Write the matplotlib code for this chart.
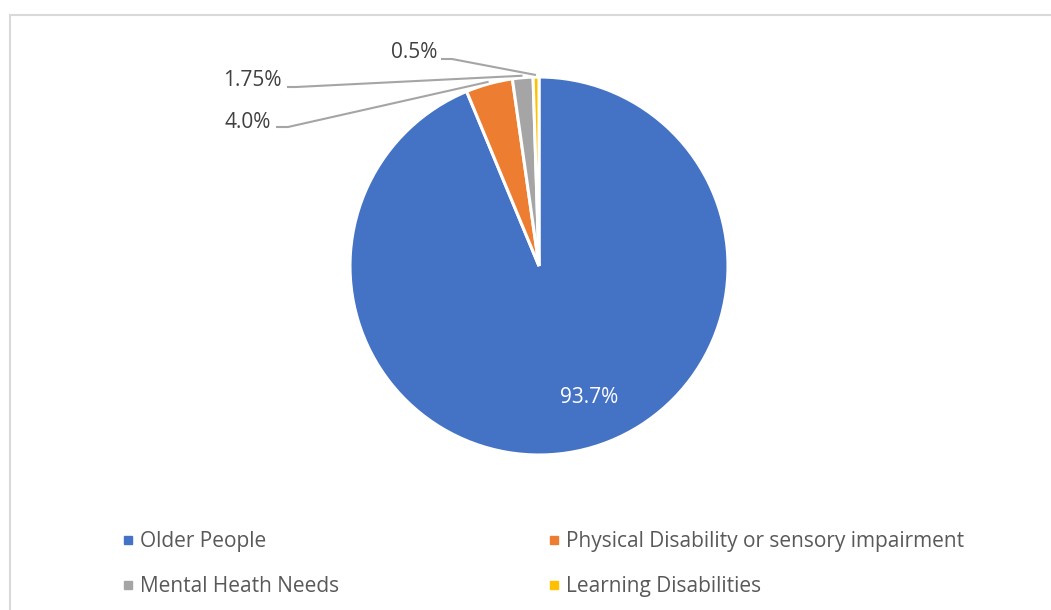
import numpy as np
import matplotlib
matplotlib.use("Agg")
import matplotlib.pyplot as plt
from matplotlib.lines import Line2D
from matplotlib.patches import Rectangle

plt.rcParams['font.family'] = ['Open Sans', 'DejaVu Sans']

# data
categories = ['Older People', 'Physical Disability or sensory impairment',
              'Mental Heath Needs', 'Learning Disabilities']
values = [93.7, 4.0, 1.75, 0.5]
value_labels = ['93.7%', '4.0%', '1.75%', '0.5%']
colors = ['#4472C4', '#ED7D31', '#A5A5A5', '#FFC000']

W, H = 1051, 610
fig = plt.figure(figsize=(W / 100, H / 100), dpi=100)
ax = fig.add_axes([0, 0, 1, 1])
ax.set_xlim(0, W)
ax.set_ylim(0, H)
ax.set_aspect('equal')
ax.axis('off')

# chart area border (light grey, only top/left visible)
ax.add_patch(Rectangle((9.5, -20), W + 50, H - 14.5 + 20, fill=False,
                       edgecolor='#D9D9D9', linewidth=1.5))

cx, cy, R = 539, H - 266, 189
wedges, _ = ax.pie(values, colors=colors, startangle=90, counterclock=False,
                   center=(cx, cy), radius=R,
                   wedgeprops=dict(edgecolor='white', linewidth=2.2))
ax.set_xlim(0, W)
ax.set_ylim(0, H)

def mid_angle(w):
    return np.deg2rad((w.theta1 + w.theta2) / 2)

# inner label for the big slice
a = mid_angle(wedges[0]) + np.deg2rad(10)
ax.text(cx + 0.737 * R * np.cos(a), cy + 0.737 * R * np.sin(a) - 2, value_labels[0],
        color='white', fontsize=15, ha='center', va='center')

# outside labels with leader lines: (elbow x, elbow y, end x, text x, text y)
leaders = {
    1: (288, 127, 276, 271, 122),
    2: (296, 87, 287, 282, 81),
    3: (452, 59, 441, 437, 53),
}
for i, (ex, ey, endx, tx, ty) in leaders.items():
    a = mid_angle(wedges[i])
    px, py = cx + 191 * np.cos(a), cy + 191 * np.sin(a)
    ax.plot([px, ex, endx], [py, H - ey, H - ey], color='#A5A5A5', lw=1.5,
            solid_capstyle='butt')
    ax.text(tx, H - ty, value_labels[i], color='#404040', fontsize=15,
            ha='right', va='center')

# legend, row-major order
order = [0, 2, 1, 3]
handles = [Line2D([], [], marker='s', linestyle='none', markersize=5.8,
                  markerfacecolor=colors[k], markeredgecolor=colors[k]) for k in order]
leg = fig.legend(handles, [categories[k] for k in order], ncol=2,
                 loc='upper left', bbox_to_anchor=(122 / W, 1 - 531 / H),
                 frameon=False, fontsize=15, handlelength=0.55, handletextpad=0.3,
                 columnspacing=10.05, labelspacing=1.15, labelcolor='#595959',
                 borderpad=0, borderaxespad=0)

fig.savefig('out.png', dpi=100)
